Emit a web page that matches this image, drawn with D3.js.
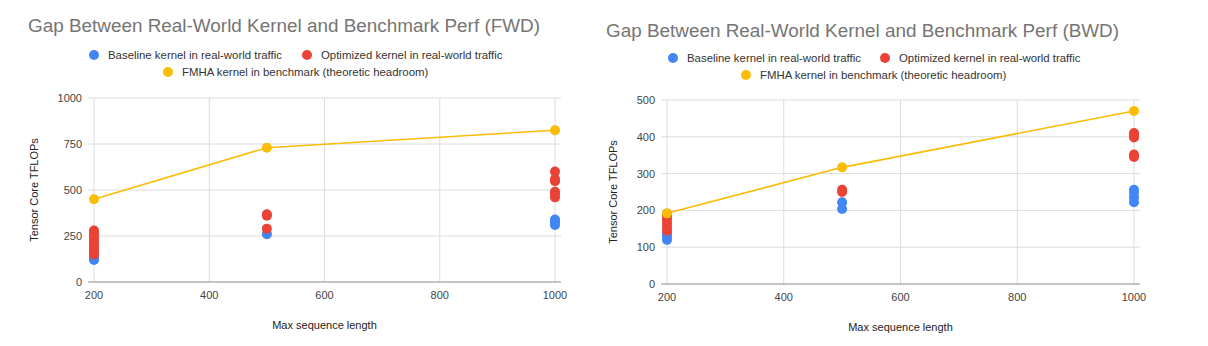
<!DOCTYPE html>
<html><head><meta charset="utf-8">
<script src="https://cdn.jsdelivr.net/npm/d3@7"></script>
<style>body{margin:0;background:#fff;} svg{display:block;font-family:"Liberation Sans",Arial,sans-serif;}</style>
</head><body>
<svg id="c" width="1208" height="346"></svg>
<script>
// ---- data ----
const xTicks = [200, 400, 600, 800, 1000];
const fwdYTicks = [0, 250, 500, 750, 1000];
const bwdYTicks = [0, 100, 200, 300, 400, 500];
const seriesNames = ["Baseline kernel in real-world traffic", "Optimized kernel in real-world traffic", "FMHA kernel in benchmark (theoretic headroom)"];
const seriesColors = ["#4285F4", "#EA4335", "#FBBC04"];

const fwdBaseline = [[200,120],[200,130],[200,140],[200,150],[500,260],[1000,310],[1000,325],[1000,340]];
const fwdOptimized = [[200,150],[200,160],[200,175],[200,190],[200,205],[200,220],[200,235],[200,250],[200,265],[200,280],
  [500,290],[500,360],[500,368],[1000,460],[1000,478],[1000,490],[1000,548],[1000,560],[1000,600]];
const fwdFmha = [[200,450],[500,730],[1000,825]];

const bwdBaseline = [[200,120],[200,130],[200,140],[500,204],[500,222],[1000,222],[1000,235],[1000,248],[1000,256]];
const bwdOptimized = [[200,145],[200,155],[200,165],[200,175],[200,185],[200,190],[500,250],[500,256],
  [1000,345],[1000,352],[1000,398],[1000,404],[1000,410]];
const bwdFmha = [[200,192],[500,317],[1000,470]];

const svg = d3.select("#c");

function drawChart(cfg) {
  const g = svg.append("g");
  const x = d3.scaleLinear().domain([200, 1000]).range(cfg.xRange);
  const y = d3.scaleLinear().domain(cfg.yDomain).range(cfg.yRange);
  const x0 = x.range()[0] - 6, x1 = x.range()[1] + 6;

  // title
  g.append("text").attr("x", cfg.titleX).attr("y", cfg.titleY)
    .attr("font-size", 18.9).attr("fill", "#757575").text(cfg.title);

  // legend
  const lg = g.append("g").attr("font-size", 11.4);
  cfg.legend.forEach((l, i) => {
    lg.append("circle").attr("cx", l.cx).attr("cy", l.cy).attr("r", 5).attr("fill", seriesColors[i]);
    lg.append("text").attr("x", l.cx + 14).attr("y", l.cy + 4).attr("fill", "#333").text(seriesNames[i]);
  });

  // gridlines
  g.append("g").selectAll("line").data(cfg.yTicks.filter(d => d !== 0)).join("line")
    .attr("x1", x0).attr("x2", x1).attr("y1", d => y(d)).attr("y2", d => y(d))
    .attr("stroke", "#dcdcdc").attr("stroke-width", 1);
  g.append("g").selectAll("line").data(xTicks).join("line")
    .attr("x1", d => x(d)).attr("x2", d => x(d)).attr("y1", y.range()[1]).attr("y2", y(0))
    .attr("stroke", "#dcdcdc").attr("stroke-width", 1);
  // baseline
  g.append("line").attr("x1", x0).attr("x2", x1).attr("y1", y(0)).attr("y2", y(0))
    .attr("stroke", "#8a8a8a").attr("stroke-width", 1.2);

  // y tick labels
  g.append("g").selectAll("text").data(cfg.yTicks).join("text")
    .attr("x", x.range()[0] - 12).attr("y", d => y(d) + 4).attr("text-anchor", "end")
    .attr("font-size", 11).attr("fill", "#444").text(d => d);
  // x tick labels
  g.append("g").selectAll("text").data(xTicks).join("text")
    .attr("x", d => x(d)).attr("y", y(0) + 17).attr("text-anchor", "middle")
    .attr("font-size", 11).attr("fill", "#444").text(d => d);

  // axis titles
  g.append("text").attr("x", (x.range()[0] + x.range()[1]) / 2).attr("y", y(0) + 47)
    .attr("text-anchor", "middle").attr("font-size", 11).attr("fill", "#222").text("Max sequence length");
  const yc = (y.range()[0] + y.range()[1]) / 2;
  g.append("text").attr("transform", `translate(${cfg.yTitleX},${yc}) rotate(-90)`)
    .attr("text-anchor", "middle").attr("font-size", 11).attr("fill", "#222").text("Tensor Core TFLOPs");

  // series
  const line = d3.line().x(d => x(d[0])).y(d => y(d[1]));
  const data = cfg.series;
  g.append("path").datum(data[2]).attr("d", line).attr("fill", "none")
    .attr("stroke", seriesColors[2]).attr("stroke-width", 1.6);
  data.forEach((s, i) => {
    g.append("g").selectAll("circle").data(s).join("circle")
      .attr("cx", d => x(d[0])).attr("cy", d => y(d[1])).attr("r", 5).attr("fill", seriesColors[i]);
  });
}

drawChart({
  title: "Gap Between Real-World Kernel and Benchmark Perf (FWD)",
  titleX: 28, titleY: 32,
  legend: [{cx: 94, cy: 55}, {cx: 307, cy: 55}, {cx: 168, cy: 72}],
  xRange: [94, 555], yDomain: [0, 1000], yRange: [282, 98], yTicks: fwdYTicks, yTitleX: 38,
  series: [fwdBaseline, fwdOptimized, fwdFmha]
});
drawChart({
  title: "Gap Between Real-World Kernel and Benchmark Perf (BWD)",
  titleX: 606, titleY: 37,
  legend: [{cx: 673, cy: 58}, {cx: 885, cy: 58}, {cx: 746, cy: 75}],
  xRange: [667, 1134], yDomain: [0, 500], yRange: [284, 100], yTicks: bwdYTicks, yTitleX: 617,
  series: [bwdBaseline, bwdOptimized, bwdFmha]
});
</script>
</body></html>
